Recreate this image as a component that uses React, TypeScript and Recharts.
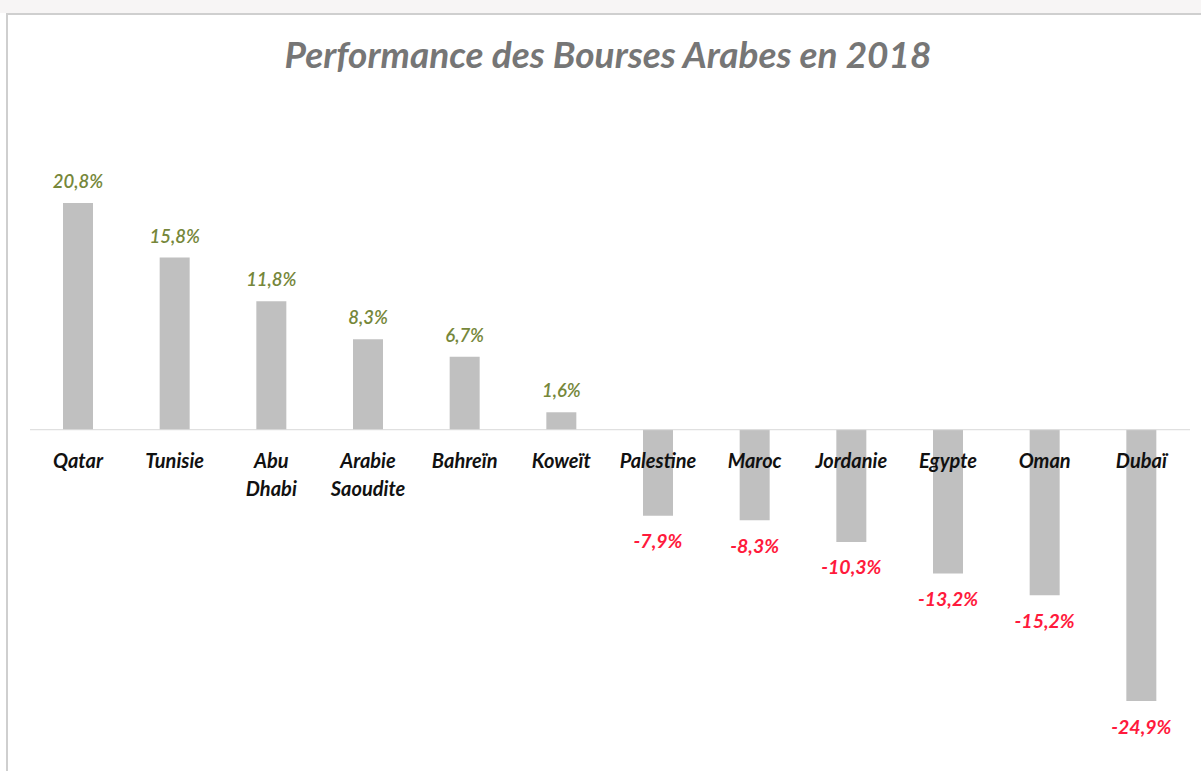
import React from "react";
import { BarChart, Bar, XAxis, YAxis, ReferenceLine, LabelList } from "recharts";

const countries = [
  "Qatar",
  "Tunisie",
  "Abu Dhabi",
  "Arabie Saoudite",
  "Bahreïn",
  "Koweït",
  "Palestine",
  "Maroc",
  "Jordanie",
  "Egypte",
  "Oman",
  "Dubaï",
];
const performance = [20.8, 15.8, 11.8, 8.3, 6.7, 1.6, -7.9, -8.3, -10.3, -13.2, -15.2, -24.9];
const valueLabels = [
  "20,8%", "15,8%", "11,8%", "8,3%", "6,7%", "1,6%",
  "-7,9%", "-8,3%", "-10,3%", "-13,2%", "-15,2%", "-24,9%",
];
// how the category names break onto lines
const nameLines = [
  ["Qatar"],
  ["Tunisie"],
  ["Abu", "Dhabi"],
  ["Arabie", "Saoudite"],
  ["Bahreïn"],
  ["Koweït"],
  ["Palestine"],
  ["Maroc"],
  ["Jordanie"],
  ["Egypte"],
  ["Oman"],
  ["Dubaï"],
];

const data = countries.map((name, i) => ({ name, value: performance[i] }));

const FONT = "Lato, 'Open Sans', sans-serif";

const box = (props: any) => {
  const vb = props.viewBox ?? props;
  return { x: Number(vb.x), y: Number(vb.y), width: Number(vb.width), height: Number(vb.height) };
};

const ValueLabel = (props: any) => {
  const { x, y, width } = box(props);
  const i = props.index;
  const v = performance[i];
  const cx = x + width / 2;
  const ty = v >= 0 ? y - 22 : y + 25;
  return (
    <text
      x={cx}
      y={ty}
      textAnchor="middle"
      dominantBaseline="central"
      fontFamily={FONT}
      fontStyle="italic"
      fontWeight={v >= 0 ? 600 : 700}
      fontSize={v >= 0 ? 18.5 : 19.5}
      fill={v >= 0 ? "#76873a" : "#ff1a3c"}
    >
      {valueLabels[i]}
    </text>
  );
};

const NameLabel = (props: any) => {
  const { x, y, width, height } = box(props);
  const i = props.index;
  const zeroY = y + height;
  const cx = x + width / 2;
  return (
    <text
      textAnchor="middle"
      fontFamily={FONT}
      fontStyle="italic"
      fontWeight={700}
      fontSize={20}
      fill="#111"
    >
      {nameLines[i].map((line, k) => (
        <tspan key={k} x={cx} y={zeroY + 38 + k * 28}>
          {line}
        </tspan>
      ))}
    </text>
  );
};

export default function App() {
  return (
    <div style={{ position: "absolute", left: 0, top: 0, width: 1201, height: 771, background: "#fff", overflow: "hidden" }}>
      <div style={{ position: "absolute", left: 0, top: 0, width: 1201, height: 13, background: "#f7f5f5" }} />
      <div
        style={{
          position: "absolute",
          left: 6,
          top: 13,
          width: 1201,
          height: 800,
          borderLeft: "2px solid #cfcfcf",
          borderTop: "2px solid #cfcfcf",
        }}
      />
      <div
        style={{
          position: "absolute",
          left: 0,
          top: 31,
          width: 1216,
          textAlign: "center",
          fontFamily: FONT,
          fontStyle: "italic",
          fontWeight: 700,
          fontSize: 37,
          color: "#767676",
        }}
      >
        Performance des Bourses Arabes en 2018
      </div>
      <div style={{ position: "absolute", left: 0, top: 0 }}>
        <BarChart width={1201} height={771} data={data} margin={{ top: 190, right: 11, left: 30, bottom: 58 }}>
          <XAxis dataKey="name" hide />
          <YAxis hide domain={[-26, 22]} allowDataOverflow />
          <ReferenceLine y={0} stroke="#d9d9d9" strokeWidth={1} />
          <Bar dataKey="value" fill="#c0c0c0" barSize={30} isAnimationActive={false}>
            <LabelList dataKey="value" content={ValueLabel} />
            <LabelList dataKey="name" content={NameLabel} />
          </Bar>
        </BarChart>
      </div>
    </div>
  );
}
